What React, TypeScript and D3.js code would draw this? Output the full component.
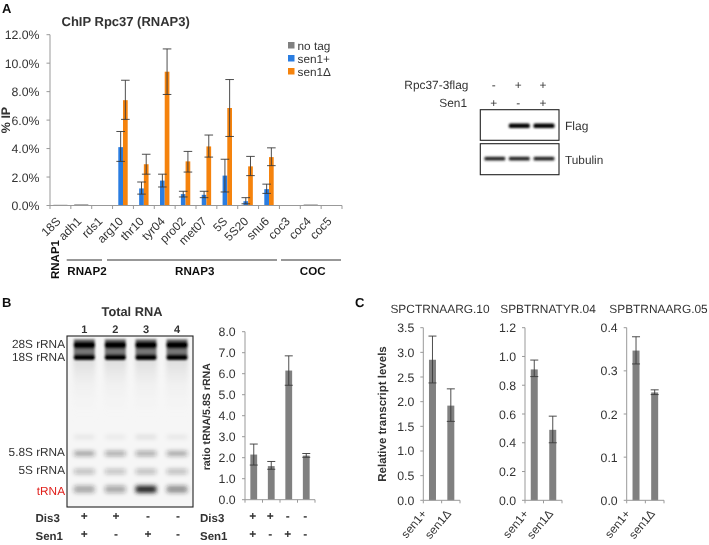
import React from "react";
import * as d3 from "d3";

const FONT = "'Liberation Sans', Arial, sans-serif";
const INK = "#333";

const genes = ["18S","adh1","rds1","arg10","thr10","tyr04","pro02","met07","5S","5S20","snu6","coc3","coc4","coc5"];
const noTag = [0.05,0.08,0.03,0,0,0,0,0,0,0,0,0.03,0.07,0.03];
const senPlus = [0,0,0,4.1,1.2,1.75,0.8,0.75,2.1,0.3,1.15,0,0,0];
const senPlusLo = [0,0,0,3.1,0.8,1.3,0.6,0.55,0.95,0.12,0.85,0,0,0];
const senPlusHi = [0,0,0,5.2,1.65,2.2,1.0,1.0,3.25,0.55,1.5,0,0,0];
const senDel = [0,0,0,7.4,2.9,9.4,3.1,4.15,6.85,2.75,3.4,0,0,0];
const senDelLo = [0,0,0,6.05,2.2,7.8,2.35,3.4,4.85,2.1,2.8,0,0,0];
const senDelHi = [0,0,0,8.8,3.6,11.0,3.8,4.95,8.85,3.45,4.05,0,0,0];
const ticksA = [0,2,4,6,8,10,12];

const ratio = [2.15,1.6,6.15,2.1];
const ratioLo = [1.65,1.45,5.45,2.02];
const ratioHi = [2.65,1.82,6.85,2.2];
const ticksB = [0,1,2,3,4,5,6,7,8];
const dis3 = ["+","+","-","-"];
const sen1 = ["+","-","+","-"];

const panelC = [
  { title: "SPCTRNAARG.10", x0: 423.3, x1: 460, titleX: 440, max: 3.5, ticks: [0,0.5,1,1.5,2,2.5,3,3.5], fmt: ".1f", v: [2.85,1.92], lo: [2.38,1.6], hi: [3.33,2.26] },
  { title: "SPBTRNATYR.04", x0: 525, x1: 562, titleX: 548, max: 1.2, ticks: [0,0.2,0.4,0.6,0.8,1,1.2], fmt: ".1f", v: [0.91,0.49], lo: [0.86,0.4], hi: [0.975,0.585] },
  { title: "SPBTRNAARG.05", x0: 626.7, x1: 664, titleX: 658.5, max: 0.4, ticks: [0,0.1,0.2,0.3,0.4], fmt: ".1f", v: [0.347,0.25], lo: [0.316,0.245], hi: [0.379,0.256] },
];
const cCats = ["sen1+","sen1\u0394"];

const gelLanes = [84.3,115.3,146,177];
const gelBands = [
  { y: 453.5, h: 5, o: [0.4,0.36,0.36,0.38] },
  { y: 471.5, h: 5, o: [0.28,0.26,0.28,0.28] },
  { y: 489.3, h: 7, o: [0.38,0.36,1,0.48] },
  { y: 437, h: 4, o: [0.07,0.06,0.1,0.07] },
];
const rrnaBands = [345,357.3];

function Err({ x, lo, hi, y, w, color = "#3a3a3a" }: any) {
  return (
    <g stroke={color} strokeWidth={0.9} fill="none">
      <line x1={x} x2={x} y1={y(lo)} y2={y(hi)} />
      <line x1={x-w} x2={x+w} y1={y(lo)} y2={y(lo)} />
      <line x1={x-w} x2={x+w} y1={y(hi)} y2={y(hi)} />
    </g>
  );
}

function T({ x, y, children, size = 12, anchor = "start", bold = false, fill = INK, rotate }: any) {
  return (
    <text x={x} y={y} fontSize={size} fontFamily={FONT} fontWeight={bold ? 700 : 400} fill={fill} textAnchor={anchor}
      textRendering="geometricPrecision"
      transform={rotate !== undefined ? `rotate(${rotate} ${x} ${y})` : undefined}>{children}</text>
  );
}

function PanelA() {
  const y = d3.scaleLinear().domain([0,12]).range([205.5,34.7]);
  const x = d3.scaleBand<string>().domain(genes).range([50,342]);
  const bw = 4.7;
  return (
    <g>
      <T x={2} y={13} size={13} bold fill="#111">A</T>
      <T x={61.5} y={26} size={13} bold>ChIP Rpc37 (RNAP3)</T>
      <T x={10} y={120} size={12.5} bold anchor="middle" rotate={-90}>% IP</T>
      {ticksA.map(t => (
        <g key={t}>
          <line x1={46.5} x2={50} y1={y(t)} y2={y(t)} stroke="#999" />
          <T x={39.5} y={y(t)+4.5} size={12.3} anchor="end">{d3.format(".1f")(t)}%</T>
        </g>
      ))}
      {genes.map((g,i) => {
        const c = x(g)! + x.bandwidth()/2;
        return (
          <g key={g}>
            {noTag[i] > 0 && <rect x={c-bw*1.5} width={bw*3} y={y(noTag[i])} height={y(0)-y(noTag[i])} fill="#808080" />}
            {senPlus[i] > 0 && <rect x={c-bw} width={bw} y={y(senPlus[i])} height={y(0)-y(senPlus[i])} fill="#2a7de1" />}
            {senDel[i] > 0 && <rect x={c} width={bw} y={y(senDel[i])} height={y(0)-y(senDel[i])} fill="#f5830f" />}
            {senPlus[i] > 0 && <Err x={c-bw/2} lo={senPlusLo[i]} hi={senPlusHi[i]} y={y} w={4.3} />}
            {senDel[i] > 0 && <Err x={c+bw/2} lo={senDelLo[i]} hi={senDelHi[i]} y={y} w={4.3} />}
            <T x={c+1} y={222} size={12} anchor="end" rotate={-45}>{g}</T>
          </g>
        );
      })}
      <line x1={50} x2={50} y1={y(12)} y2={y(0)} stroke="#999" />
      <line x1={50} x2={342} y1={y(0)} y2={y(0)} stroke="#999" />
      {genes.concat("").map((g,i) => {
        const tx = 50 + i*x.step();
        return <line key={i} x1={tx} x2={tx} y1={y(0)} y2={y(0)+3.5} stroke="#999" />;
      })}
      {[["no tag","#808080",50],["sen1+","#2a7de1",63],["sen1\u0394","#f5830f",76]].map(([l,c,ly]: any) => (
        <g key={l}>
          <rect x={288} y={ly-8} width={6.5} height={6.5} fill={c} />
          <T x={297.5} y={ly} size={11.8}>{l}</T>
        </g>
      ))}
      <T x={59} y={279} size={11.5} bold rotate={-90} fill="#111">RNAP1</T>
      {[["RNAP2",66.7,102,87],["RNAP3",107,277,194.7],["COC",281,341,312.7]].map(([l,a,b,c]: any) => (
        <g key={l}>
          <line x1={a} x2={b} y1={260} y2={260} stroke="#333" strokeWidth={1.1} />
          <T x={c} y={275} size={11.6} bold anchor="middle" fill="#111">{l}</T>
        </g>
      ))}
    </g>
  );
}

function Blot() {
  const flagX = [519.3,544];
  const tubX = [494.8,519.3,544];
  return (
    <g>
      <T x={404.3} y={89.3} size={11.9}>Rpc37-3flag</T>
      <T x={467} y={106.7} size={11.9} anchor="end">Sen1</T>
      {["-","+","+"].map((s,i) => <T key={i} x={tubX[i]-1} y={89} size={11.9} anchor="middle">{s}</T>)}
      {["+","-","+"].map((s,i) => <T key={i} x={tubX[i]-1} y={107} size={11.9} anchor="middle">{s}</T>)}
      <rect x={480.3} y={109.7} width={78.7} height={30.6} fill="#fff" stroke="#222" strokeWidth={1.1} />
      <rect x={480.3} y={143.7} width={78.7} height={31} fill="#fff" stroke="#222" strokeWidth={1.1} />
      <g filter="url(#b10)" fill="#000">
        {flagX.map(c => <rect key={c} x={c-10.5} y={123.5} width={21} height={4.6} rx={1.5} />)}
        {tubX.map(c => <rect key={c} x={c-10.5} y={156.8} width={21} height={3.8} rx={1.5} fill="#222" />)}
      </g>
      <T x={565} y={130} size={12}>Flag</T>
      <T x={565} y={164} size={11.8}>Tubulin</T>
    </g>
  );
}

function Gel() {
  return (
    <g>
      <T x={2} y={307} size={13} bold fill="#111">B</T>
      <T x={132} y={315.7} size={12.8} bold anchor="middle">Total RNA</T>
      {gelLanes.map((c,i) => <T key={i} x={c} y={333} size={11} bold anchor="middle">{i+1}</T>)}
      <rect x={67} y={336} width={126} height={171} fill="#f6f6f6" />
      <g filter="url(#b20)">
        {gelLanes.map(c => <rect key={c} x={c-11} y={358} width={22} height={62} fill="url(#smear)" />)}
        {gelBands.map((b,k) => gelLanes.map((c,i) => (
          <rect key={k+"-"+i} x={c-10.5} y={b.y-b.h/2} width={21} height={b.h} rx={2} fill="#222" opacity={b.o[i]} />
        )))}
      </g>
      <g filter="url(#b10)">
        {gelLanes.map(c => <rect key={c} x={c-10.5} y={339} width={21} height={18} fill="#777" />)}
        {rrnaBands.map((by,k) => gelLanes.map(c => (
          <rect key={k+"-"+c} x={c-10.5} y={by-(k===0?3.5:2.8)} width={21} height={k===0?7:5.6} rx={2} fill="#000" />
        )))}
      </g>
      <rect x={67} y={336} width={126} height={171} fill="none" stroke="#222" strokeWidth={1.1} />
      {[["28S rRNA",348],["18S rRNA",361],["5.8S rRNA",456],["5S rRNA",474]].map(([l,ly]: any) => (
        <T key={l} x={65} y={ly} size={11.8} anchor="end">{l}</T>
      ))}
      <T x={65} y={495} size={11.8} anchor="end" fill="#e0201c">tRNA</T>
      <T x={35.5} y={522.3} size={11.5} bold>Dis3</T>
      <T x={35.5} y={540} size={11.5} bold>Sen1</T>
      {[84.3,116,148,178].map((c,i) => <T key={i} x={c} y={520} size={12} bold anchor="middle">{dis3[i]}</T>)}
      {[84.3,116,148,178].map((c,i) => <T key={i} x={c} y={538} size={12} bold anchor="middle">{sen1[i]}</T>)}
    </g>
  );
}

function PanelB() {
  const y = d3.scaleLinear().domain([0,8]).range([499.7,331.7]);
  const x = d3.scaleBand<number>().domain([0,1,2,3]).range([245,315]);
  return (
    <g>
      {ticksB.map(t => (
        <g key={t}>
          <line x1={242} x2={245} y1={y(t)} y2={y(t)} stroke="#999" />
          <T x={235.7} y={y(t)+4.5} size={12.3} anchor="end">{t.toFixed(1)}</T>
        </g>
      ))}
      <T x={210} y={416.7} size={10.6} bold anchor="middle" rotate={-90}>ratio tRNA/5.8S rRNA</T>
      {ratio.map((v,i) => {
        const c = x(i)! + x.bandwidth()/2;
        return (
          <g key={i}>
            <rect x={c-3.4} width={6.8} y={y(v)} height={y(0)-y(v)} fill="#808080" />
            <Err x={c} lo={ratioLo[i]} hi={ratioHi[i]} y={y} w={4} />
            <T x={c-1} y={520} size={12} bold anchor="middle">{dis3[i]}</T>
            <T x={c-1} y={538} size={12} bold anchor="middle">{sen1[i]}</T>
          </g>
        );
      })}
      <line x1={245} x2={245} y1={y(8)} y2={y(0)} stroke="#999" />
      <line x1={245} x2={315} y1={y(0)} y2={y(0)} stroke="#999" />
      {[0,1,2,3,4].map(i => <line key={i} x1={245+i*x.step()} x2={245+i*x.step()} y1={y(0)} y2={y(0)+3} stroke="#999" />)}
      <T x={200} y={522.3} size={11.5} bold>Dis3</T>
      <T x={200} y={540} size={11.5} bold>Sen1</T>
    </g>
  );
}

function PanelC() {
  const labelDx = [-5,1];
  return (
    <g>
      <T x={355} y={307} size={13} bold fill="#111">C</T>
      <T x={385.5} y={414} size={11.5} bold anchor="middle" rotate={-90}>Relative transcript levels</T>
      {panelC.map(p => {
        const y = d3.scaleLinear().domain([0,p.max]).range([500.3,327.7]);
        const x = d3.scaleBand<string>().domain(cCats).range([p.x0,p.x1]);
        return (
          <g key={p.title}>
            <T x={p.titleX} y={312.7} size={11.9} anchor="middle">{p.title}</T>
            {p.ticks.map(t => (
              <g key={t}>
                <line x1={p.x0-3} x2={p.x0} y1={y(t)} y2={y(t)} stroke="#999" />
                <T x={p.x0-9} y={y(t)+4.5} size={12.3} anchor="end">{d3.format(p.fmt)(t)}</T>
              </g>
            ))}
            {p.v.map((v,i) => {
              const c = x(cCats[i])! + x.bandwidth()/2;
              return (
                <g key={i}>
                  <rect x={c-3.5} width={7} y={y(v)} height={y(0)-y(v)} fill="#808080" />
                  <Err x={c} lo={p.lo[i]} hi={p.hi[i]} y={y} w={4} />
                  <T x={c+labelDx[i]} y={514} size={11.8} anchor="end" rotate={-50}>{cCats[i]}</T>
                </g>
              );
            })}
            <line x1={p.x0} x2={p.x0} y1={y(p.max)} y2={y(0)} stroke="#999" />
            <line x1={p.x0} x2={p.x1} y1={y(0)} y2={y(0)} stroke="#999" />
            {[0,1,2].map(i => <line key={i} x1={p.x0+i*x.step()} x2={p.x0+i*x.step()} y1={y(0)} y2={y(0)+3} stroke="#999" />)}
          </g>
        );
      })}
    </g>
  );
}

export default function App() {
  return (
    <svg width={709} height={545} viewBox="0 0 709 545" style={{ position: "absolute", left: 0, top: 0, background: "#fff" }}>
      <defs>
        <filter id="soft" x="0" y="0" width="100%" height="100%" filterUnits="userSpaceOnUse"><feGaussianBlur stdDeviation={0.35} /></filter>
        <filter id="b10" x="-20%" y="-20%" width="140%" height="140%"><feGaussianBlur stdDeviation={1.0} /></filter>
        <filter id="b20" x="-20%" y="-20%" width="140%" height="140%"><feGaussianBlur stdDeviation={2} /></filter>
        <linearGradient id="smear" x1="0" x2="0" y1="0" y2="1">
          <stop offset="0" stopColor="#d4d4d4" stopOpacity={0.8} />
          <stop offset="0.4" stopColor="#e8e8e8" stopOpacity={0.45} />
          <stop offset="1" stopColor="#f2f2f2" stopOpacity={0} />
        </linearGradient>
      </defs>
      <g filter="url(#soft)">
        <rect x={0} y={0} width={709} height={545} fill="#fff" />
        <PanelA />
        <Blot />
        <Gel />
        <PanelB />
        <PanelC />
      </g>
    </svg>
  );
}
